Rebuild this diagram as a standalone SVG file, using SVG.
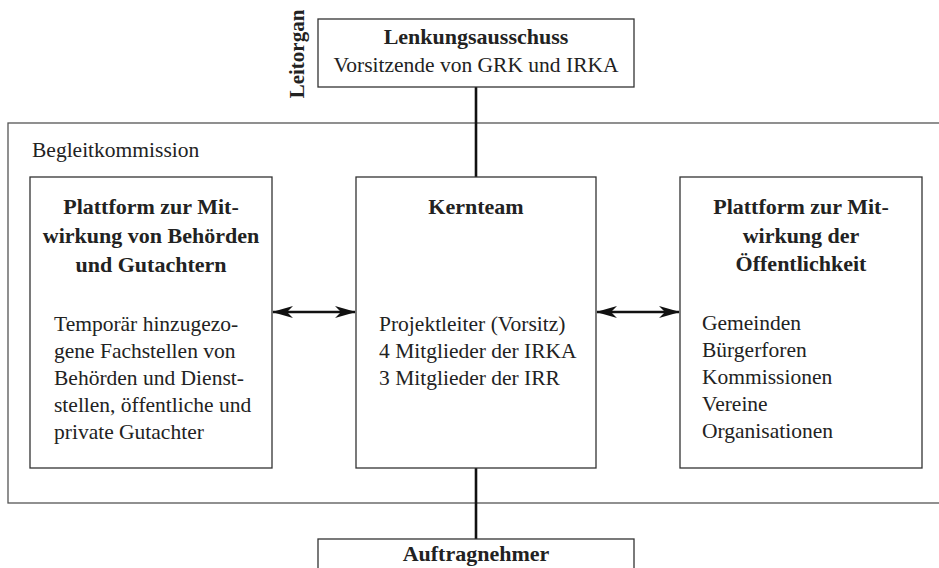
<svg xmlns="http://www.w3.org/2000/svg" width="939" height="568" viewBox="0 0 939 568">
<defs>
<style>
.box{fill:#fff;stroke:#333;stroke-width:1.3}
.outer{fill:none;stroke:#555;stroke-width:1.3}
.conn{stroke:#111;stroke-width:2.6;fill:none}
text{font-family:"Liberation Serif","Times New Roman",serif;fill:#222;font-size:21.5px}
.b{font-weight:bold;font-size:22px}
.c{text-anchor:middle}
</style>
<marker id="ah" viewBox="0 0 21 12" refX="20" refY="6" markerWidth="21" markerHeight="12" markerUnits="userSpaceOnUse" orient="auto-start-reverse">
<path d="M0,0 L21,6 L0,12 L6,6 z" fill="#111"/>
</marker>
</defs>
<g id="begleitkommission">
<rect class="outer" x="8" y="123" width="940" height="380"/>
<text x="32" y="157">Begleitkommission</text>
</g>
<g id="connectors">
<line class="conn" x1="476" y1="87" x2="476" y2="177"/>
<line class="conn" x1="476" y1="468" x2="476" y2="539"/>
<line class="conn" x1="273" y1="312" x2="355" y2="312" marker-start="url(#ah)" marker-end="url(#ah)"/>
<line class="conn" x1="597" y1="312" x2="679" y2="312" marker-start="url(#ah)" marker-end="url(#ah)"/>
</g>
<g id="lenkungsausschuss">
<rect class="box" x="318" y="19" width="316" height="68"/>
<text class="b c" x="476" y="44">Lenkungsausschuss</text>
<text class="c" x="476" y="72">Vorsitzende von GRK und IRKA</text>
<text class="b c" transform="translate(304,54) rotate(-90)" style="font-size:21px">Leitorgan</text>
</g>
<g id="plattform-behoerden">
<rect class="box" x="30" y="177" width="242" height="291"/>
<text class="b c" x="151" y="214">Plattform zur Mit-</text>
<text class="b c" x="151" y="243">wirkung von Behörden</text>
<text class="b c" x="151" y="272">und Gutachtern</text>
<text x="54" y="331">Temporär hinzugezo-</text>
<text x="54" y="358">gene Fachstellen von</text>
<text x="54" y="385">Behörden und Dienst-</text>
<text x="54" y="412">stellen, öffentliche und</text>
<text x="54" y="439">private Gutachter</text>
</g>
<g id="kernteam">
<rect class="box" x="356" y="177" width="240" height="291"/>
<text class="b c" x="476" y="214">Kernteam</text>
<text x="379" y="331">Projektleiter (Vorsitz)</text>
<text x="379" y="358">4 Mitglieder der IRKA</text>
<text x="379" y="385">3 Mitglieder der IRR</text>
</g>
<g id="plattform-oeffentlichkeit">
<rect class="box" x="680" y="177" width="242" height="291"/>
<text class="b c" x="801" y="214">Plattform zur Mit-</text>
<text class="b c" x="801" y="243">wirkung der</text>
<text class="b c" x="801" y="271">Öffentlichkeit</text>
<text x="702" y="330">Gemeinden</text>
<text x="702" y="357">Bürgerforen</text>
<text x="702" y="384">Kommissionen</text>
<text x="702" y="411">Vereine</text>
<text x="702" y="438">Organisationen</text>
</g>
<g id="auftragnehmer">
<rect class="box" x="318" y="539" width="316" height="40"/>
<text class="b c" x="476" y="561">Auftragnehmer</text>
</g>
</svg>
